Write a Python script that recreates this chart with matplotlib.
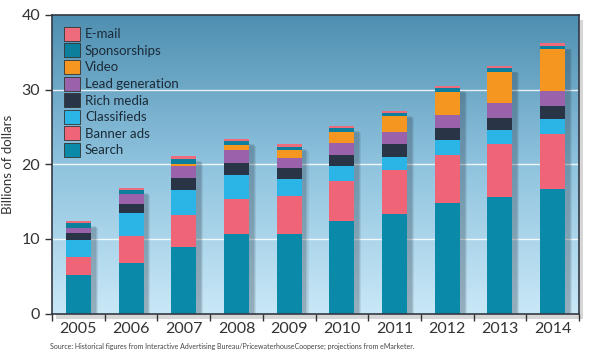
import numpy as np
import matplotlib
matplotlib.use("Agg")
import matplotlib.pyplot as plt
from matplotlib.colors import LinearSegmentedColormap
from matplotlib.patches import Rectangle, Patch

plt.rcParams['font.family'] = ['Lato', 'DejaVu Sans']

years = ["2005", "2006", "2007", "2008", "2009", "2010", "2011", "2012", "2013", "2014"]
search =       [5.1, 6.75, 8.85, 10.6, 10.7, 12.35, 13.4, 14.75, 15.65, 16.7]
banner_ads =   [2.5, 3.65, 4.35, 4.8, 5.1, 5.45, 5.85, 6.5, 7.0, 7.4]
classifieds =  [2.2, 3.1, 3.4, 3.2, 2.2, 2.0, 1.75, 1.95, 1.95, 2.0]
rich_media =   [0.95, 1.2, 1.6, 1.6, 1.5, 1.5, 1.65, 1.6, 1.65, 1.7]
lead_gen =     [0.75, 1.3, 1.6, 1.7, 1.3, 1.6, 1.65, 1.8, 1.95, 2.05]
video =        [0.0, 0.0, 0.3, 0.7, 1.1, 1.45, 2.15, 3.05, 4.1, 5.55]
sponsorships = [0.6, 0.5, 0.65, 0.45, 0.45, 0.45, 0.45, 0.55, 0.55, 0.45]
email =        [0.3, 0.3, 0.35, 0.35, 0.35, 0.3, 0.25, 0.25, 0.25, 0.35]

series_names = ["Search", "Banner ads", "Classifieds", "Rich media",
                "Lead generation", "Video", "Sponsorships", "E-mail"]
series_vals = [search, banner_ads, classifieds, rich_media, lead_gen, video, sponsorships, email]
colors = ["#0b89a8", "#ef6477", "#2bb4e6", "#293447", "#9a62ab", "#f4961f", "#0c7f9c", "#ee6b7b"]

fig = plt.figure(figsize=(6.0, 3.64), dpi=100)
ax = fig.add_axes([0.0867, 0.1387, 0.8783, 0.8201])
ax.set_zorder(2)

x = np.arange(len(years))
width = 0.475

# outer grey shadow of the plot frame
fig.patches.append(Rectangle((0.0867 + 0.006, 0.1387 - 0.014), 0.8783, 0.8201,
                             transform=fig.transFigure, facecolor="#d6d6d6",
                             edgecolor="none", zorder=-1))

# background gradient
cmap = LinearSegmentedColormap.from_list("bg", ["#c9e8f7", "#8fc3de", "#4f8fb1"])
grad = np.linspace(0, 1, 256).reshape(-1, 1)
ax.imshow(grad, extent=[-0.5, 9.5, 0, 40], origin="lower", aspect="auto",
          cmap=cmap, zorder=0)

for g in [10, 20, 30]:
    ax.axhline(g, color="white", lw=1.0, alpha=0.85, zorder=1)

totals = np.sum(np.array(series_vals), axis=0)
# soft bar shadows
for dx, dy, a in [(0.13, 0.9, 0.10), (0.11, 0.8, 0.12), (0.09, 0.7, 0.14)]:
    ax.bar(x + dx, np.maximum(totals - dy, 0), width=width, color="#2c3a48",
           alpha=a, zorder=2, linewidth=0)

bottom = np.zeros(len(years))
for name, vals, c in zip(series_names, series_vals, colors):
    ax.bar(x, vals, width=width, bottom=bottom, color=c, zorder=3, linewidth=0)
    bottom += np.array(vals)

ax.set_xlim(-0.5, 9.5)
ax.set_ylim(0, 40)
ax.set_yticks([0, 10, 20, 30, 40])
ax.set_xticks(x)
ax.set_xticklabels(years)
ax.set_xticks(np.arange(-0.5, 10, 1), minor=True)
ax.tick_params(axis="x", which="major", length=0, labelsize=11.5, colors="#333333", pad=6)
ax.tick_params(axis="x", which="minor", length=5, width=1, color="#333333", direction="out")
ax.tick_params(axis="y", length=5, width=1, labelsize=11.5, colors="#333333", direction="out")
for s in ax.spines.values():
    s.set_color("#333944")
    s.set_linewidth(1.2)
    s.set_zorder(5)

ax.set_ylabel("Billions of dollars", fontsize=9.5, color="#333333")
ax.yaxis.set_label_coords(-0.072, 0.5)

handles = [Patch(facecolor=c, edgecolor="#333333", linewidth=0.6, label=n)
           for n, c in zip(series_names, colors)]
leg = ax.legend(handles=handles[::-1], loc="upper left", bbox_to_anchor=(0.0, 1.0),
                frameon=False, fontsize=9.5, handlelength=1.25, handleheight=1.25,
                handletextpad=0.35, labelspacing=0.2, borderaxespad=0.5,
                labelcolor="#1c2b38")

fig.text(0.083, 0.042,
         "Source: Historical figures from Interactive Advertising Bureau/PricewaterhouseCooperse; projections from eMarketer.",
         fontsize=5.0, color="#444444")

fig.savefig("out.png", dpi=100)
